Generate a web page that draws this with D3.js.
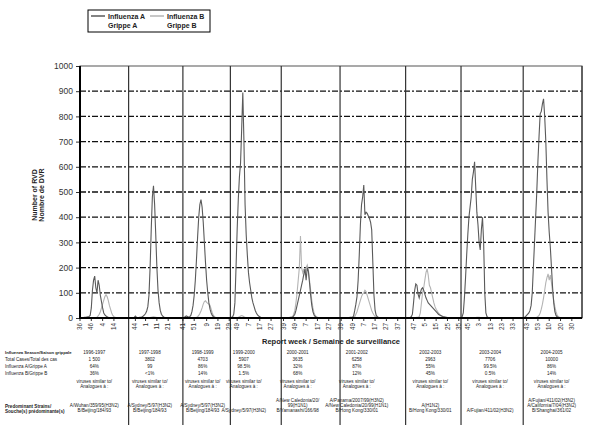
<!doctype html>
<html>
<head>
<meta charset="utf-8">
<script src="https://d3js.org/d3.v7.min.js"></script>
<style>
  body { margin: 0; background: #fff; }
  svg { font-family: "Liberation Sans", Arial, sans-serif; }
</style>
</head>
<body>
<script>
// ---- data ----
var seasons = ["1996-1997", "1997-1998", "1998-1999", "1999-2000", "2000-2001",
               "2001-2002", "2002-2003", "2003-2004", "2004-2005"];
var startWeeks = [36, 38, 41, 43, 37, 38, 40, 39, 40];
var yearWeeks  = [52, 52, 53, 52, 52, 52, 52, 52, 53];
var tickWeeks = [
  [36, 46, 4, 14],
  [44, 1, 11, 21],
  [41, 51, 9, 19, 29],
  [49, 7, 17, 27],
  [39, 49, 7, 17, 27],
  [39, 49, 7, 17, 27, 37],
  [47, 5, 15, 25, 35],
  [45, 3, 13, 23, 33],
  [43, 53, 10, 20, 30]
];
var yTicks = [0, 100, 200, 300, 400, 500, 600, 700, 800, 900, 1000];

// weekly counts, influenza A, one array per season
var fluA = [
  [1,1,2,2,3,3,4,5,6, 10,40,110,150,166,120,100,150,130,90,65,40,20,12,8,5,3,
   2,2,2,2,2,2,2,2,2,2,2,2,2,2,2,2,2],
  [1,1,1,2,2,3,8,3,2,2,3,3, 5,8,12,18,28,45,90,200,350,480,525,450,330,200,110,60,30,15,8,4,
   2,2,2,2,2,2,2,2,2,2,2,2,2,2,2,2],
  [2,3,5,8,6,4,5,10,25,50,90,150,230,320,400,450,470,440,380,300,220,150,100,60,35,20,10,5,
   2,2,2,2,2,2,2,2,2,2,2,2,2,2],
  [2,3,5,15,60,200,350,470,560,615,750,895,700,450,330,250,180,140,110,80,60,45,30,20,12,8,5,3,
   2,2,2,2,2,2,2,2,2,2,2,2,2,2,2,2,2],
  [1,1,1,1,2,2,2,2,3,3, 3,8,15,30,50,70,90,110,130,150,175,195,150,200,185,140,90,50,25,12,6,3,
   2,2,2,2,2,2,2,2,2,2,2,2,2,2,2,2,2,2,2,2],
  [1,1,1,1,2,2,2,2,2,3,3, 3,8,30,55,85,150,250,370,450,480,528,410,420,415,405,395,380,350,220,90,30,10,5,
   2,2,2,2,2,2,2,2,2,2,2,2,2,2,2,2,2,2,2,2,2,2,2,2],
  [1,1,2,2,3, 5,15,60,110,135,130,95,80,100,115,120,110,95,80,70,60,55,50,45,40,35,30,25,20,15,12,10,8,6,5,4,3,
   2,2,2,2,2,2,2,2,2,2,2,2],
  [2,5,20,80,160,250,330,400,440,480,550,580,620,520,420,370,300,270,350,400,300,100,20,5,
   2,2,2,2,2,2,2,2,2,2,2,2,2,2,2,2,2,2,2,2,2,2,2,2,2,2,2,2,2,2,2],
  [2,3,5,10,15,20,30,50,100,200,300,400,500,620,720,810,820,850,870,800,700,550,420,340,280,200,120,60,25,10,5,
   2,2,2,2,2,2,2,2,2,2,2,2,2,2,2,2,2,2,2,2,2]
];
// weekly counts, influenza B
var fluB = [
  [0,0,0,0,0,0,0,0,0,0,0,0,0,0,0, 3,8,15,25,40,55,70,85,92,85,70,50,35,20,10,5,3,
   1,1,1,1,1,1,1,1,1,1,1],
  [0,0,0,0,0,0,0,0,0,0,0,0,0,0,0,0,0,0, 1,2,3,4,5,4,3,2,1,1,
   0,0,0,0,0,0,0,0,0,0,0,0,0,0,0,0,0,0,0,0],
  [0,0,0,0,0,0,0,0,0,0,0,0, 2,5,10,18,28,40,55,65,68,62,58,55,50,35,20,10,5,2,
   1,1,1,1,1,1,1,1,1,1,1,1],
  [0,0,0,0,0, 1,2,3,5,8,10,8,5,3,2, 1,1,1,1,1,1,1,1,1,1,
   0,0,0,0,0,0,0,0,0,0,0,0,0,0,0,0,0,0,0,0],
  [0,0,0,1,1,1,1,2,2,3, 5,15,30,60,100,150,200,325,200,180,195,170,200,210,190,150,110,70,40,20,10,5,3,
   1,1,1,1,1,1,1,1,1,1,1,1,1,1,1,1,1,1,1],
  [0,0,0,1,1,1,1,1,1,2,2,2,3, 5,15,25,40,55,70,85,95,100,110,105,90,75,60,45,30,20,12,6,3,
   1,1,1,1,1,1,1,1,1,1,1,1,1,1,1,1,1,1,1,1,1,1,1,1,1],
  [0,0,0,0,1,1,1,1,2,2,3,3, 5,20,60,100,120,150,180,195,170,130,120,100,80,60,45,35,28,20,15,10,7,5,3,
   1,1,1,1,1,1,1,1,1,1,1,1,1,1],
  [0,0,0,0,0,0,0,0,0,0, 1,1,2,2,3,3,3,2,2,1,1,
   0,0,0,0,0,0,0,0,0,0,0,0,0,0,0,0,0,0,0,0,0,0,0,0,0,0,0,0,0,0,0,0,0,0],
  [0,0,0,0,1,1,1,1,2,2,2,2, 3,6,10,20,35,55,80,110,140,160,175,150,170,140,100,70,45,25,12,6,3,
   1,1,1,1,1,1,1,1,1,1,1,1,1,1,1,1,1,1,1]
];

// table below the chart
var totalCases = ["1 500", "3802", "4703", "5907", "3635", "6258", "2963", "7706", "10000"];
var pctA = ["64%", "99", "86%", "98.5%", "32%", "87%", "55%", "99.5%", "86%"];
var pctB = ["36%", "<1%", "14%", "1.5%", "68%", "12%", "45%", "0.5%", "14%"];
var strains = [
  ["A/Wuhan/359/95(H3N2)", "B/Beijing/184/93"],
  ["A/Sydney/5/97(H3N2)", "B/Beijing/184/93"],
  ["A/Sydney/5/97(H3N2)", "B/Beijing/184/93"],
  ["A/Sydney/5/97(H3N2)"],
  ["A/New Caledonia/20/", "99(H1N1)", "B/Yamanashi/166/98"],
  ["A/Panama/2007/99(H3N2)", "A/New Caledonia/20/99(H1N1)", "B/Hong Kong/330/01"],
  ["A(H1N2)", "B/Hong Kong/330/01"],
  ["A/Fujian/411/02(H3N2)"],
  ["A/Fujian/411/02(H3N2)", "A/California/7/04(H3N2)", "B/Shanghai/361/02"]
];
var rowLabels = ["Influenza Season/Saison grippale", "Total Cases/Total des cas",
                 "Influenza A/Grippe A", "Influenza B/Grippe B"];

// ---- layout ----
var w = 590, h = 431;
var pL = 80, pR = 582, pT = 66, pB = 318;
var colorA = "#5a5a5a", colorB = "#b4b4b4";
var tableNudge = [-10, -6, -4, -12, -13, -16, -3, -2, -1];

var svg = d3.select("body").append("svg")
  .attr("width", w)
  .attr("height", h);

// season start index on one continuous week axis
var seasonStart = [];
var total = 0;
fluA.forEach(function(s) { seasonStart.push(total); total += s.length; });

var x = d3.scaleLinear().domain([0, total]).range([pL, pR]);
var y = d3.scaleLinear().domain([0, 1000]).range([pB, pT]);

// frame
svg.append("rect")
  .attr("x", pL).attr("y", pT)
  .attr("width", pR - pL).attr("height", pB - pT)
  .attr("fill", "none").attr("stroke", "#555").attr("stroke-width", 1);

// dashed gridlines
svg.selectAll(".grid")
  .data(yTicks.filter(function(d) { return d > 0 && d < 1000; }))
  .enter().append("line")
  .attr("class", "grid")
  .attr("x1", pL).attr("x2", pR)
  .attr("y1", function(d) { return y(d); })
  .attr("y2", function(d) { return y(d); })
  .attr("stroke", "#111")
  .attr("stroke-width", 1.3)
  .attr("stroke-dasharray", "6,2,2,2");

// season dividers, running down through the table
svg.selectAll(".divider")
  .data(seasonStart.slice(1).concat([total]))
  .enter().append("line")
  .attr("class", "divider")
  .attr("x1", function(d) { return x(d); })
  .attr("x2", function(d) { return x(d); })
  .attr("y1", pT)
  .attr("y2", function(d) { return d === total ? pB : 425; })
  .attr("stroke", "#333")
  .attr("stroke-width", 1.2);

// y axis
var yAxis = svg.append("g")
  .attr("transform", "translate(" + pL + ",0)")
  .call(d3.axisLeft(y).tickValues(yTicks).tickFormat(d3.format("d")).tickSize(4).tickPadding(3));
yAxis.select(".domain").remove();
yAxis.selectAll("text").attr("font-size", 8.5).attr("fill", "#333")
  .attr("font-family", "Liberation Sans, Arial, sans-serif");
yAxis.selectAll("line").attr("stroke", "#333");

// x ticks, labelled by week number within each season
var ticks = [];
tickWeeks.forEach(function(list, si) {
  var off = 0;
  list.forEach(function(wk) {
    while (off < 80) {
      var cur = ((startWeeks[si] - 1 + off) % yearWeeks[si]) + 1;
      if (cur === wk) break;
      off++;
    }
    ticks.push({ label: wk, idx: seasonStart[si] + off });
    off++;
  });
});
var xt = svg.selectAll(".xtick").data(ticks).enter().append("g")
  .attr("class", "xtick")
  .attr("transform", function(d) { return "translate(" + x(d.idx) + "," + pB + ")"; });
xt.append("line").attr("y1", 0).attr("y2", 3).attr("stroke", "#333");
xt.append("text")
  .attr("transform", "translate(0,5) rotate(-90)")
  .attr("text-anchor", "end")
  .attr("dy", "0.33em")
  .attr("font-size", 6.3)
  .attr("fill", "#333")
  .text(function(d) { return d.label; });

// lines per season
var line = d3.line()
  .x(function(d) { return x(d.i); })
  .y(function(d) { return y(d.v); });

function drawSeries(data, color) {
  svg.append("g").selectAll("path")
    .data(data.map(function(s, si) {
      return s.map(function(v, k) { return { i: seasonStart[si] + k, v: v }; });
    }))
    .enter().append("path")
    .attr("d", line)
    .attr("fill", "none")
    .attr("stroke", color)
    .attr("stroke-width", 1.1);
}
drawSeries(fluB, colorB);
drawSeries(fluA, colorA);

// axes lines
svg.append("line").attr("x1", pL).attr("x2", pL).attr("y1", pT).attr("y2", pB + 1)
  .attr("stroke", "#000").attr("stroke-width", 2);
svg.append("line").attr("x1", pL).attr("x2", pR).attr("y1", pB).attr("y2", pB)
  .attr("stroke", "#000").attr("stroke-width", 2);

// y title
var yt = svg.append("text")
  .attr("transform", "translate(37,195) rotate(-90)")
  .attr("text-anchor", "middle")
  .attr("font-size", 7)
  .attr("font-weight", "bold")
  .attr("fill", "#222");
yt.append("tspan").attr("x", 0).attr("dy", 0).text("Number of RVD");
yt.append("tspan").attr("x", 0).attr("dy", 7).text("Nombre de DVR");

// x title
svg.append("text")
  .attr("x", 331).attr("y", 344)
  .attr("text-anchor", "middle")
  .attr("font-size", 7.5)
  .attr("font-weight", "bold")
  .attr("fill", "#222")
  .text("Report week / Semaine de surveillance");

// legend
var lg = svg.append("g");
lg.append("rect").attr("x", 88).attr("y", 10).attr("width", 122).attr("height", 22)
  .attr("fill", "#fff").attr("stroke", "#000").attr("stroke-width", 1);
[["Influenza A", "Grippe A", colorA, 91], ["Influenza B", "Grippe B", colorB, 150]]
  .forEach(function(d) {
    lg.append("line").attr("x1", d[3]).attr("x2", d[3] + 14).attr("y1", 16).attr("y2", 16)
      .attr("stroke", d[2]).attr("stroke-width", 1.5);
    lg.append("text").attr("x", d[3] + 17).attr("y", 18.5)
      .attr("font-size", 7).attr("font-weight", "bold").attr("fill", "#222").text(d[0]);
    lg.append("text").attr("x", d[3] + 17).attr("y", 27.5)
      .attr("font-size", 7).attr("font-weight", "bold").attr("fill", "#222").text(d[1]);
  });

// table
var tb = svg.append("g").attr("font-size", 4.6).attr("fill", "#222");
var rowY = [354, 361, 368, 375];
rowLabels.forEach(function(t, i) {
  tb.append("text").attr("x", 5).attr("y", rowY[i]).attr("font-size", i === 0 ? 4.2 : 4.6)
    .attr("font-weight", i === 0 ? "bold" : "normal").text(t);
});
tb.append("text").attr("x", 5).attr("y", 408).attr("font-size", 4.6)
  .attr("font-weight", "bold").text("Predominant Strains/");
tb.append("text").attr("x", 5).attr("y", 413).attr("font-size", 4.6)
  .attr("font-weight", "bold").text("Souche(s) prédominante(s)");

seasons.forEach(function(s, si) {
  var cx = x(seasonStart[si] + fluA[si].length / 2) + tableNudge[si];
  var vals = [s, totalCases[si], pctA[si], pctB[si]];
  vals.forEach(function(v, r) {
    tb.append("text").attr("x", cx).attr("y", rowY[r]).attr("text-anchor", "middle").text(v);
  });
  tb.append("text").attr("x", cx).attr("y", 383).attr("text-anchor", "middle").text("viruses similar to/");
  tb.append("text").attr("x", cx).attr("y", 388).attr("text-anchor", "middle").text("Analogues à :");
  var n = strains[si].length;
  strains[si].forEach(function(t, k) {
    tb.append("text").attr("x", cx).attr("y", 412 - (n - 1 - k) * 4.8)
      .attr("text-anchor", "middle").text(t);
  });
});
</script>
</body>
</html>
